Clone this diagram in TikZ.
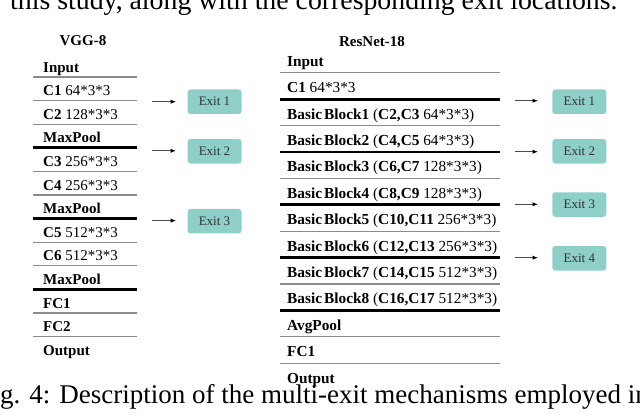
\documentclass[tikz,border=0pt]{standalone}
\usepackage{fontspec}
\setmainfont{Liberation Serif}
\usetikzlibrary{arrows.meta}
\definecolor{exitfill}{HTML}{8ECFC7}
\definecolor{rulegray}{HTML}{8C8C8C}
\tikzset{
  rule/.style={draw=rulegray, line width=1.2pt},
  boldrule/.style={draw=black, line width=2.8pt},
  lbl/.style={anchor=base west, inner sep=0pt, font=\fontsize{15}{18}\selectfont},
  rlbl/.style={anchor=base west, inner sep=0pt, font=\fontsize{15.3}{18}\selectfont},
  ttl/.style={inner sep=0pt, font=\fontsize{15}{18}\selectfont\bfseries},
  exitbox/.style={fill=exitfill, rounded corners=3pt, minimum width=54pt, minimum height=24.5pt, inner sep=0pt, text=black!80, font=\fontsize{13}{15}\selectfont},
  exitarrow/.style={draw=black!70, line width=1pt, -{Latex[length=5.5pt,width=4.5pt,color=black]}},
  caption/.style={anchor=base west, inner sep=0pt, font=\fontsize{27}{32}\selectfont},
}
\newcommand{\BB}[1]{\textbf{Basic\kern2.2pt Block#1}}
\begin{document}
\begin{tikzpicture}[x=1pt,y=-1pt]
\useasboundingbox (0,0) rectangle (640,415);
\clip (0,0) rectangle (640,415);

% captions (cut by the frame)
\node[caption, font=\fontsize{27.8}{32}\selectfont] (captop) at (10,9.5) {this study, along with the corresponding exit locations.};
\node[caption] (capbot) at (-22.5,403) {Fig. 4: Description of the multi-exit mechanisms employed in};

% ---------------- VGG-8 ----------------
\node[ttl] (vggtitle) at (83,40.5) {VGG-8};
\foreach \k/\t in {0/{\textbf{Input}},1/{\textbf{C1} 64*3*3},2/{\textbf{C2} 128*3*3},3/{\textbf{MaxPool}},
  4/{\textbf{C3} 256*3*3},5/{\textbf{C4} 256*3*3},6/{\textbf{MaxPool}},7/{\textbf{C5} 512*3*3},
  8/{\textbf{C6} 512*3*3},9/{\textbf{MaxPool}},10/{\textbf{FC1}},11/{\textbf{FC2}},12/{\textbf{Output}}}{
  \node[lbl] (vrow\k) at (43,{77+23.6*\k-5}) {\t};
}
\foreach \k in {0,1,2,4,5,7,8,10,11}{
  \draw[rule] (33,{77+23.6*\k}) -- (137,{77+23.6*\k});
}
\foreach \k in {3,6,9}{
  \draw[boldrule] (33,{77+23.6*\k}) -- (137,{77+23.6*\k});
}
\node[exitbox] (ve1) at (214.5,101.7) {Exit 1};
\node[exitbox] (ve2) at (214.5,151.3) {Exit 2};
\node[exitbox] (ve3) at (214.5,221.2) {Exit 3};
\foreach \i/\y in {1/101.7,2/150.8,3/220.6}{
  \coordinate (vs\i) at (152,\y);
  \coordinate (vt\i) at (176,\y);
  \draw[exitarrow] (vs\i) -- (vt\i);
}

% ---------------- ResNet-18 ----------------
\node[ttl] (restitle) at (372,42) {ResNet-18};
\foreach \k/\t in {0/{\textbf{Input}},1/{\textbf{C1} 64*3*3},
  2/{\BB{1} (\textbf{C2,C3} 64*3*3)},3/{\BB{2} (\textbf{C4,C5} 64*3*3)},
  4/{\BB{3} (\textbf{C6,C7} 128*3*3)},5/{\BB{4} (\textbf{C8,C9} 128*3*3)},
  6/{\BB{5} (\textbf{C10,C11} 256*3*3)},7/{\BB{6} (\textbf{C12,C13} 256*3*3)},
  8/{\BB{7} (\textbf{C14,C15} 512*3*3)},9/{\BB{8} (\textbf{C16,C17} 512*3*3)},
  10/{\textbf{AvgPool}},11/{\textbf{FC1}},12/{\textbf{Output}}}{
  \node[rlbl] (rrow\k) at (287,{72.7+26.4*\k-6.5}) {\t};
}
\foreach \k in {0,2,4,6,8,10,11}{
  \draw[rule] (280,{72.7+26.4*\k}) -- (500,{72.7+26.4*\k});
}
\foreach \k in {1,3,5,7,9}{
  \draw[boldrule] (280,{72.7+26.4*\k}) -- (500,{72.7+26.4*\k});
}
\node[exitbox] (re1) at (579.3,101.7) {Exit 1};
\node[exitbox] (re2) at (579.3,151.3) {Exit 2};
\node[exitbox] (re3) at (579.3,204.5) {Exit 3};
\node[exitbox] (re4) at (579.3,258.3) {Exit 4};
\foreach \i/\y in {1/100.7,2/151.7,3/204.3,4/257.7}{
  \coordinate (rs\i) at (515,\y);
  \coordinate (rt\i) at (538,\y);
  \draw[exitarrow] (rs\i) -- (rt\i);
}
\end{tikzpicture}
\end{document}
